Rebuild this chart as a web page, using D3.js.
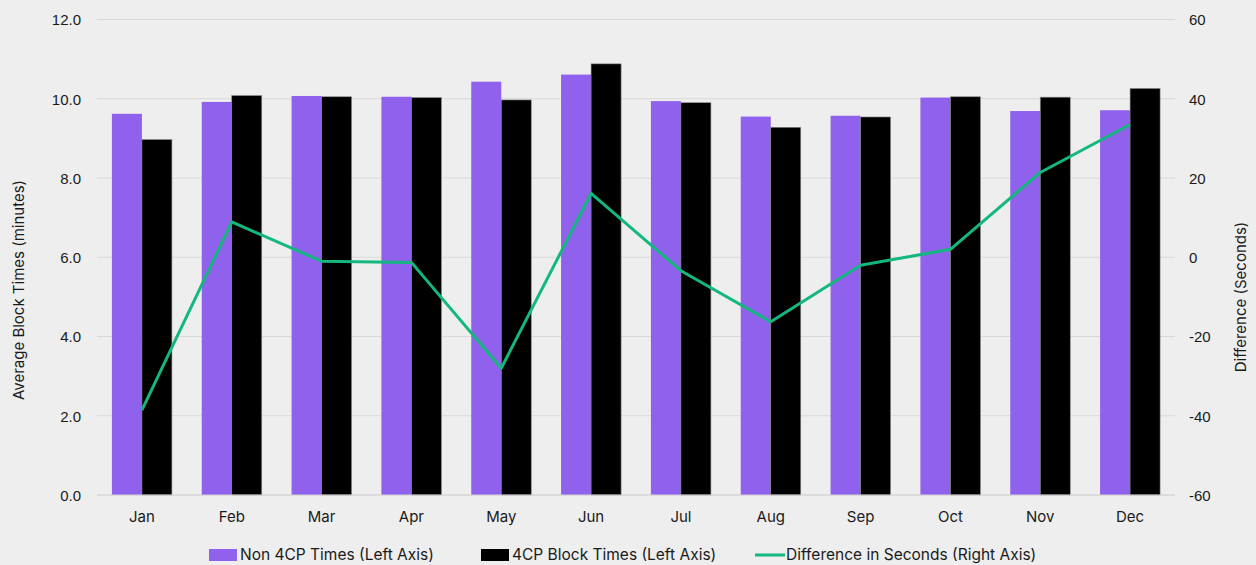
<!DOCTYPE html>
<html>
<head>
<meta charset="utf-8">
<script src="https://cdn.jsdelivr.net/npm/d3@7/dist/d3.min.js"></script>
<style>
  html, body { margin: 0; padding: 0; background: #eeeeee; }
  svg { display: block; font-family: "Inter", "Open Sans", sans-serif; }
</style>
</head>
<body>
<svg id="chart" width="1256" height="565"></svg>
<script>
// Monthly average block times (minutes) and their difference (seconds)
const months = ["Jan","Feb","Mar","Apr","May","Jun","Jul","Aug","Sep","Oct","Nov","Dec"];
const non4cpTimes = [9.62, 9.92, 10.07, 10.05, 10.43, 10.61, 9.94, 9.55, 9.57, 10.03, 9.69, 9.71];
const cp4Times    = [8.97, 10.08, 10.05, 10.03, 9.97, 10.88, 9.90, 9.28, 9.54, 10.05, 10.04, 10.26];
const diffSeconds = [-38.6, 8.9, -1.0, -1.3, -28.0, 16.1, -3.4, -16.3, -2.0, 2.0, 21.4, 33.5];

const leftTicks  = [0, 2, 4, 6, 8, 10, 12];
const rightTicks = [-60, -40, -20, 0, 20, 40, 60];

const seriesNames = ["Non 4CP Times (Left Axis)", "4CP Block Times (Left Axis)", "Difference in Seconds (Right Axis)"];
const colors = { purple: "#9061ec", black: "#000000", green: "#12b87e" };

const svg = d3.select("#chart");
const plot = { left: 97, right: 1175, top: 19.5, bottom: 495 };

const x = d3.scaleBand().domain(months).range([plot.left, plot.right])
  .paddingInner(0.332).paddingOuter(0.166);
const xSub = d3.scaleBand().domain(["non", "cp"]).range([0, x.bandwidth()]);
const yL = d3.scaleLinear().domain([0, 12]).range([plot.bottom, plot.top]);
const yR = d3.scaleLinear().domain([-60, 60]).range([plot.bottom, plot.top]);

// gridlines
svg.append("g").selectAll("line").data(leftTicks).join("line")
  .attr("x1", plot.left).attr("x2", plot.right)
  .attr("y1", d => yL(d)).attr("y2", d => yL(d))
  .attr("stroke", "#d9d9d9").attr("stroke-width", 1.2);

// left axis
const leftAxis = svg.append("g").attr("transform", `translate(${plot.left - 16},0)`)
  .call(d3.axisLeft(yL).tickValues(leftTicks).tickFormat(d3.format(".1f")).tickSize(0).tickPadding(0));
leftAxis.select(".domain").remove();
leftAxis.selectAll("text").attr("font-size", 15).attr("fill", "#1a1a1a").attr("dy", "0.35em");

// right axis (plain hyphen for negatives)
const rightAxis = svg.append("g").attr("transform", `translate(${plot.right + 14},0)`)
  .call(d3.axisRight(yR).tickValues(rightTicks).tickFormat(d => String(d)).tickSize(0).tickPadding(0));
rightAxis.select(".domain").remove();
rightAxis.selectAll("text").attr("font-size", 15).attr("fill", "#1a1a1a").attr("dy", "0.35em");

// bars
const groups = svg.append("g").selectAll("g").data(months).join("g")
  .attr("transform", d => `translate(${x(d)},0)`);
groups.append("rect")
  .attr("x", xSub("non")).attr("width", xSub.bandwidth())
  .attr("y", (d, i) => yL(non4cpTimes[i]))
  .attr("height", (d, i) => yL(0) - yL(non4cpTimes[i]))
  .attr("fill", colors.purple);
groups.append("rect")
  .attr("x", xSub("cp")).attr("width", xSub.bandwidth())
  .attr("y", (d, i) => yL(cp4Times[i]))
  .attr("height", (d, i) => yL(0) - yL(cp4Times[i]))
  .attr("fill", colors.black).attr("stroke", "#8a8a8a").attr("stroke-width", 0.6);

// x axis baseline
svg.append("line")
  .attr("x1", plot.left).attr("x2", plot.right)
  .attr("y1", yL(0)).attr("y2", yL(0))
  .attr("stroke", "#d4d4d4").attr("stroke-width", 1.2);

// month labels
svg.append("g").selectAll("text").data(months).join("text")
  .attr("x", d => x(d) + x.bandwidth() / 2)
  .attr("y", 522)
  .attr("text-anchor", "middle")
  .attr("font-size", 15).attr("fill", "#1a1a1a")
  .text(d => d);

// difference line
const line = d3.line()
  .x((d, i) => x(months[i]) + x.bandwidth() / 2)
  .y(d => yR(d));
svg.append("path").datum(diffSeconds)
  .attr("d", line)
  .attr("fill", "none").attr("stroke", colors.green).attr("stroke-width", 3)
  .attr("stroke-linejoin", "round");

// axis titles
svg.append("text")
  .attr("transform", "translate(24,290) rotate(-90)")
  .attr("text-anchor", "middle").attr("font-size", 15).attr("fill", "#1a1a1a")
  .text("Average Block Times (minutes)");
svg.append("text")
  .attr("transform", "translate(1246,297) rotate(-90)")
  .attr("text-anchor", "middle").attr("font-size", 15).attr("fill", "#1a1a1a")
  .text("Difference (Seconds)");

// legend
const legendY = 555;
const legend = svg.append("g");
const legendItems = [
  { name: seriesNames[0], type: "rect", color: colors.purple, x: 209 },
  { name: seriesNames[1], type: "rect", color: colors.black, x: 481 },
  { name: seriesNames[2], type: "line", color: colors.green, x: 755 }
];
legendItems.forEach(item => {
  if (item.type === "rect") {
    legend.append("rect").attr("x", item.x).attr("y", legendY - 6).attr("width", 28).attr("height", 12)
      .attr("fill", item.color);
  } else {
    legend.append("line").attr("x1", item.x).attr("x2", item.x + 30)
      .attr("y1", legendY).attr("y2", legendY)
      .attr("stroke", item.color).attr("stroke-width", 3);
  }
  legend.append("text").attr("x", item.x + 31).attr("y", legendY).attr("dy", "0.35em")
    .attr("font-size", 15.5).attr("fill", "#1a1a1a")
    .text(item.name);
});
</script>
</body>
</html>
